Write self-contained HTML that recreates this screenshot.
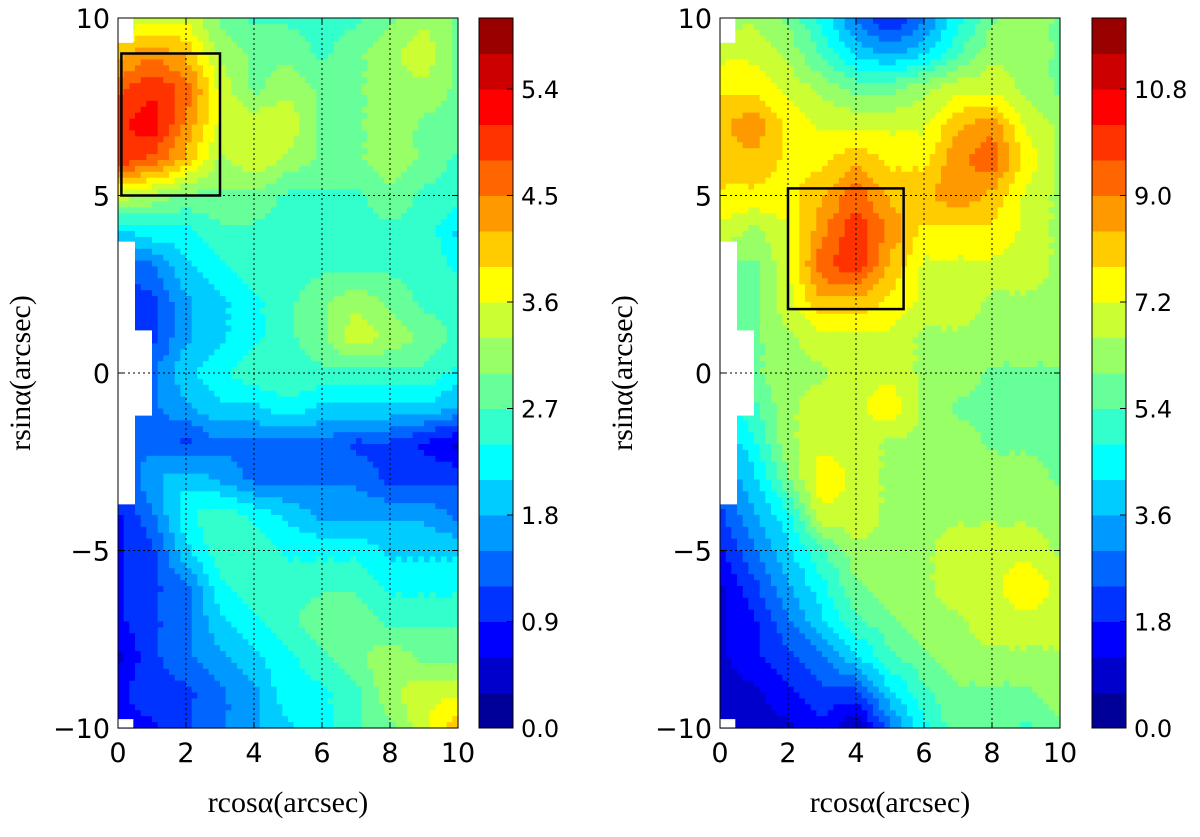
<!DOCTYPE html>
<html><head><meta charset="utf-8"><style>
body{margin:0;background:#fff;width:1200px;height:832px;overflow:hidden}
svg text{font-family:"DejaVu Sans","Liberation Sans",sans-serif}
.lbl{font-family:"Liberation Serif",serif;font-size:30px}
</style></head><body>
<svg id="fig" width="1200" height="832"></svg>
<script>
const xTicks=[0,2,4,6,8,10];
const yTicks=[10,5,0,-5,-10];
const leftBarTicks=["0.0","0.9","1.8","2.7","3.6","4.5","5.4"];
const rightBarTicks=["0.0","1.8","3.6","5.4","7.2","9.0","10.8"];
const leftValues=[
[3.3,3.6,3.6,3.0,2.7,2.7,2.7,2.7,3.0,3.3,3.0],
[4.2,4.5,4.2,3.3,3.0,3.0,2.7,3.0,3.3,3.6,3.0],
[4.8,5.1,4.8,3.6,3.0,3.3,3.0,3.0,3.3,3.3,3.0],
[5.1,5.4,4.5,3.6,3.6,3.6,3.0,3.0,3.3,3.0,3.0],
[5.1,4.8,4.2,3.3,3.6,3.3,3.0,3.0,3.3,3.0,2.7],
[3.6,3.3,3.0,3.0,3.0,2.7,2.7,2.7,3.0,2.7,2.7],
[2.1,2.4,2.4,2.7,2.7,2.7,2.7,2.7,2.7,2.7,2.1],
[1.2,1.5,2.1,2.4,2.7,2.7,2.7,2.7,2.7,2.7,2.4],
[1.2,1.2,1.8,2.1,2.4,2.7,3.0,3.3,3.0,2.7,2.7],
[0.9,1.2,1.8,2.1,2.4,2.7,3.0,3.6,3.3,3.0,2.7],
[1.2,1.5,2.1,2.4,2.7,2.7,2.7,2.7,2.7,2.7,2.4],
[1.2,1.5,1.8,2.1,2.1,2.4,2.1,2.1,2.1,2.1,1.8],
[1.5,1.5,1.2,1.5,1.5,1.5,1.5,1.2,1.2,0.9,0.6],
[1.2,1.8,2.1,1.8,1.5,1.5,1.5,1.5,1.2,1.2,1.2],
[0.9,1.5,2.4,2.7,2.4,2.1,1.8,1.8,1.8,1.8,1.5],
[0.9,1.2,2.1,2.7,2.7,2.4,2.4,2.4,2.1,2.1,2.1],
[0.9,1.2,1.5,2.4,2.7,2.7,2.7,2.7,2.4,2.4,2.4],
[0.9,1.2,1.5,2.1,2.4,2.7,3.0,3.0,2.7,2.7,2.7],
[0.6,1.2,1.5,1.8,2.1,2.4,2.7,3.0,3.3,3.0,3.0],
[0.9,1.2,1.2,1.5,1.8,2.4,2.4,2.7,3.3,3.6,3.6],
[0.9,0.9,1.2,1.5,1.8,2.1,2.4,2.7,3.0,3.6,4.2]];
const rightValues=[
[6.6,6.6,6.0,4.8,3.0,1.8,3.0,4.8,6.0,6.6,6.0],
[7.2,7.2,6.6,5.4,4.2,3.6,4.2,5.4,6.6,6.6,6.0],
[7.8,7.8,7.2,6.6,6.0,6.0,6.6,7.2,7.2,6.6,6.0],
[8.4,9.0,7.8,7.2,7.2,7.2,7.2,8.4,9.0,7.2,6.6],
[8.4,8.4,7.8,7.8,8.4,7.8,7.8,9.0,9.6,7.8,6.6],
[7.8,7.8,7.8,8.4,9.6,8.4,8.4,9.0,8.4,7.2,6.6],
[7.2,6.6,7.2,9.0,10.2,9.0,7.8,7.8,7.8,7.2,6.6],
[6.0,6.0,7.2,9.6,10.2,8.4,7.2,7.2,7.2,7.2,6.6],
[5.4,6.0,7.2,8.4,8.4,7.8,7.2,7.2,6.6,6.6,6.6],
[4.8,6.0,6.6,7.2,7.2,7.2,6.6,6.6,6.6,6.6,6.6],
[4.8,6.0,6.6,6.6,7.2,7.2,6.6,6.6,6.0,6.0,6.0],
[4.2,5.4,6.6,7.2,7.2,7.8,6.6,6.0,6.0,6.0,6.0],
[3.6,4.8,6.6,7.2,7.2,6.6,6.6,6.6,6.0,6.0,6.0],
[3.0,4.2,6.0,7.8,7.2,6.6,6.6,6.6,6.6,6.6,6.0],
[2.4,3.6,4.8,7.2,7.2,6.6,6.6,6.6,6.6,6.6,6.6],
[1.8,3.0,4.2,5.4,6.6,6.6,6.6,7.2,7.2,7.2,6.6],
[1.2,2.4,3.6,4.8,6.0,6.6,6.6,7.2,7.2,7.8,7.2],
[1.2,1.8,3.0,4.2,5.4,6.0,6.6,6.6,7.2,7.2,7.2],
[1.2,1.8,2.4,3.0,4.2,5.4,6.0,6.6,6.6,6.6,6.6],
[1.2,1.2,1.8,2.4,2.4,4.2,5.4,6.0,6.0,6.0,6.6],
[1.2,1.2,1.2,1.8,0.6,3.0,4.8,6.0,6.0,5.4,6.0]];
const leftBox=[0.1,9,3,5];
const rightBox=[2,5.2,5.4,1.8];

const NS='http://www.w3.org/2000/svg';
const svg=document.getElementById('fig');
function mk(tag,attrs,parent){const e=document.createElementNS(NS,tag);for(const k in attrs)e.setAttribute(k,attrs[k]);(parent||svg).appendChild(e);return e;}
function jet(t){const c=v=>Math.round(255*Math.max(0,Math.min(1,v)));
return `rgb(${c(1.5-Math.abs(4*t-3))},${c(1.5-Math.abs(4*t-2))},${c(1.5-Math.abs(4*t-1))})`;}

function panel(x0,cbx,vals,vmax,barTicks,box,name){
  const W=340,top=18,H=710;
  const sx=v=>x0+v/10*W, sy=v=>top+(10-v)/20*H;
  const g=mk('g',{});
  
  
  const step=vmax/20;
  const lvl=v=>{let k=Math.floor((v-step*0.25)/step);k=Math.max(0,Math.min(19,k));return jet((k+0.5)/20);};
  const hm=mk('g',{},g);
  
  
  const N=6;
  for(let r=0;r<20;r++)for(let c=0;c<10;c++){
    for(let i=0;i<N;i++)for(let j=0;j<N;j++){
      const fx=(j+0.5)/N,fy=(i+0.5)/N;
      const v=vals[r][c]*(1-fx)*(1-fy)+vals[r][c+1]*fx*(1-fy)+vals[r+1][c]*(1-fx)*fy+vals[r+1][c+1]*fx*fy;
      const xa=c+j/N, ya=10-(r+i/N);
      const x1=sx(xa),y1=sy(ya);
      const cell=mk('rect',{x:x1.toFixed(2),y:y1.toFixed(2),width:(W/10/N+0.6).toFixed(2),height:(H/20/N+0.6).toFixed(2),fill:lvl(v)},hm);
      
      
    }
  }
  [[0,10,0.45,9.3],[0,3.7,0.5,-3.7],[0,1.2,1.0,-1.2],[0,-9.75,0.45,-10]].forEach(m=>{
    const e=mk('rect',{x:sx(m[0])-1,y:sy(m[1]),width:sx(m[2])-sx(m[0])+1,height:sy(m[3])-sy(m[1]),fill:'#fff'},g);
    
    
  });
  [2,4,6,8].forEach(v=>{const l=mk('line',{x1:sx(v),x2:sx(v),y1:top,y2:top+H,stroke:'#000','stroke-width':1,'stroke-dasharray':'2,3'},g);
    });
  [5,0,-5].forEach(v=>{const l=mk('line',{x1:x0,x2:x0+W,y1:sy(v),y2:sy(v),stroke:'#000','stroke-width':1,'stroke-dasharray':'2,3'},g);
    });
  const b=mk('rect',{x:sx(box[0]),y:sy(box[1]),width:sx(box[2])-sx(box[0]),height:sy(box[3])-sy(box[1]),fill:'none',stroke:'#000','stroke-width':2.5},g);
  
  const fr=mk('rect',{x:x0,y:top,width:W,height:H,fill:'none',stroke:'#000','stroke-width':1},g);
  
  xTicks.forEach(v=>{
    mk('line',{x1:sx(v),x2:sx(v),y1:top+H,y2:top+H-6,stroke:'#000'},g);
    mk('line',{x1:sx(v),x2:sx(v),y1:top,y2:top+6,stroke:'#000'},g);
    const t=mk('text',{x:sx(v),y:top+H+34,'font-size':27,'text-anchor':'middle'},g);t.textContent=v;
    
  });
  yTicks.forEach(v=>{
    mk('line',{x1:x0,x2:x0+6,y1:sy(v),y2:sy(v),stroke:'#000'},g);
    mk('line',{x1:x0+W,x2:x0+W-6,y1:sy(v),y2:sy(v),stroke:'#000'},g);
    const t=mk('text',{x:x0-8,y:sy(v)+10,'font-size':27,'text-anchor':'end'},g);t.textContent=(v<0?'\u2212'+(-v):v);
    
  });
  const xl=mk('text',{x:x0+W/2,y:812,'text-anchor':'middle',class:'lbl'},g);xl.textContent='rcos\u03b1(arcsec)';
  
  const yl=mk('text',{x:0,y:0,'text-anchor':'middle',class:'lbl',transform:`translate(${x0-88},${top+H/2}) rotate(-90)`},g);yl.textContent='rsin\u03b1(arcsec)';
  
  const cb=mk('g',{},g);
  
  const cw=34;
  for(let k=0;k<20;k++){
    const y1=top+H-(k+1)/20*H;
    const s=mk('rect',{x:cbx,y:y1,width:cw,height:H/20+0.5,fill:jet((k+0.5)/20)},cb);
    
  }
  mk('rect',{x:cbx,y:top,width:cw,height:H,fill:'none',stroke:'#000'},cb);
  barTicks.forEach(lab=>{
    const y=top+H-parseFloat(lab)/vmax*H;
    mk('line',{x1:cbx+cw-6,x2:cbx+cw,y1:y,y2:y,stroke:'#000'},cb);
    const t=mk('text',{x:cbx+cw+8,y:y+9,'font-size':24},cb);t.textContent=lab;
    
  });
}
panel(118,479,leftValues,6.0,leftBarTicks,leftBox,'left');
panel(720,1092,rightValues,12.0,rightBarTicks,rightBox,'right');
</script>
</body></html>
